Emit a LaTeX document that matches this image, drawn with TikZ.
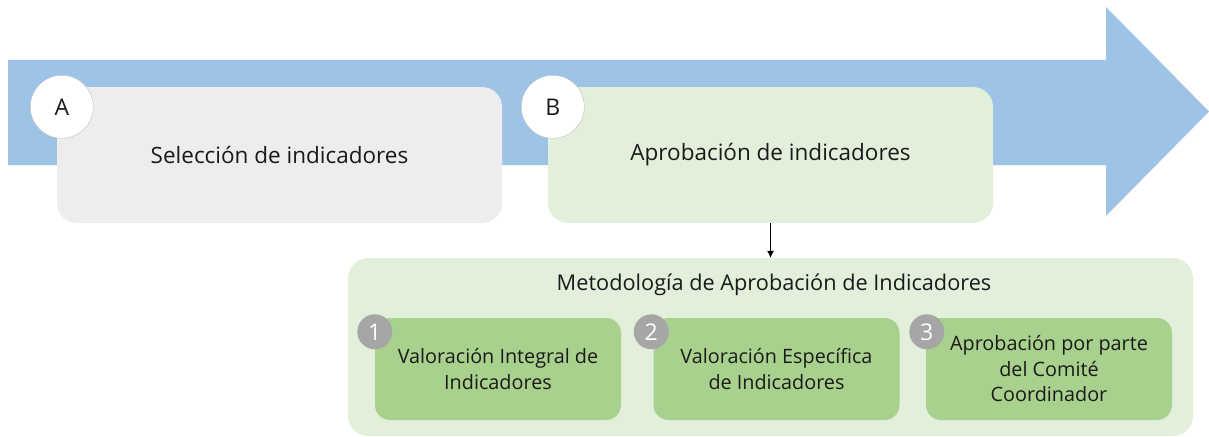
\documentclass[tikz,border=0pt]{standalone}
\usepackage{fontspec}
\setmainfont{Open Sans}
\usepackage{tikz}
\usetikzlibrary{arrows.meta,positioning}

\definecolor{flowblue}{HTML}{9DC3E6}
\definecolor{selgray}{HTML}{EDEDED}
\definecolor{palegreen}{HTML}{E2EFDA}
\definecolor{midgreen}{HTML}{A9D18E}
\definecolor{dotgray}{HTML}{A6A6A6}
\definecolor{ringgray}{HTML}{BFBFBF}
\definecolor{inkgray}{HTML}{1A1A1A}

\tikzset{
  stage/.style={rounded corners=20, minimum width=445, minimum height=136,
    text=inkgray, font=\fontsize{22.5}{26}\selectfont},
  letter/.style={circle, draw=ringgray, fill=white, minimum size=63,
    inner sep=0, text=inkgray, font=\fontsize{23}{26}\selectfont},
  substep/.style={rounded corners=15, fill=midgreen, minimum width=246,
    minimum height=102, align=center, text=inkgray,
    font=\fontsize{19.8}{25.5}\selectfont},
  number/.style={circle, fill=dotgray, text=white, minimum size=35,
    inner sep=0, font=\fontsize{23}{26}\selectfont}
}

\begin{document}
\begin{tikzpicture}[x=1pt, y=-1pt]
  \useasboundingbox (0,0) rectangle (1209,436);

  % big arrow behind
  \fill[flowblue] (8,60) -- (1106,60) -- (1106,7) -- (1209,111.5)
    -- (1106,216) -- (1106,165) -- (8,165) -- cycle;

  \node (sel) [stage, fill=selgray] at (279.5,155) {Selección de indicadores};
  \node (apr) [stage, fill=palegreen] at (770.5,155) {Aprobación de indicadores};
  \node (a) [letter] at ([xshift=5, yshift=-20]sel.north west) {A};
  \node (b) [letter] at ([xshift=5, yshift=-20]apr.north west) {B};

  \node (met) [rounded corners=20, fill=palegreen, minimum width=845,
    minimum height=178] at (770.5,347) {};
  \node (title) [text=inkgray, font=\fontsize{21.7}{26}\selectfont]
    at (774,285) {Metodología de Aprobación de Indicadores};

  \node (s1) [substep] at (498,369) {Valoración Integral de\\Indicadores};
  \node (s2) [substep] at (776.5,369) {Valoración Específica\\de Indicadores};
  \node (s3) [substep] at (1049,369) {Aprobación por parte\\del Comité\\Coordinador};

  \node (n1) [number] at ([xshift=0, yshift=-14]s1.north west) {1};
  \node (n2) [number] at ([xshift=-2, yshift=-14]s2.north west) {2};
  \node (n3) [number] at ([xshift=1, yshift=-14]s3.north west) {3};

  \draw[-{Latex[length=7, width=7]}, thick] (apr.south) -- (met.north);
\end{tikzpicture}
\end{document}
